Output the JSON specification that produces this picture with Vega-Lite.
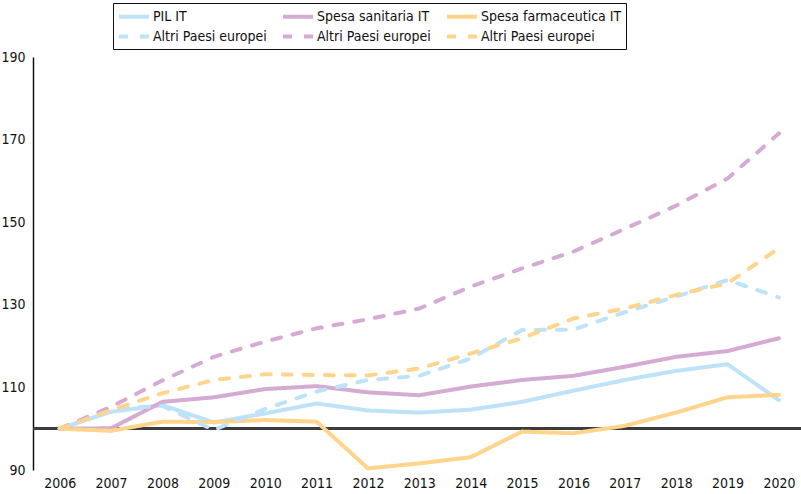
{
  "$schema": "https://vega.github.io/schema/vega-lite/v6.json",
  "width": 768,
  "height": 413,
  "autosize": {"type": "none"},
  "padding": {"left": 33, "top": 57, "right": 0, "bottom": 24},
  "background": "white",
  "config": {
    "view": {"stroke": null},
    "font": "DejaVu Sans Condensed",
    "axis": {"labelFont": "DejaVu Sans Condensed", "labelFontSize": 14, "labelColor": "#111", "grid": false, "ticks": false, "title": null},
    "legend": {"labelFont": "DejaVu Sans Condensed", "labelFontSize": 14, "labelColor": "#111"}
  },
  "data": {
    "values": [
      {"anno": 2006, "serie": "PIL IT", "valore": 100},
      {"anno": 2007, "serie": "PIL IT", "valore": 104.1},
      {"anno": 2008, "serie": "PIL IT", "valore": 105.7},
      {"anno": 2009, "serie": "PIL IT", "valore": 101.5},
      {"anno": 2010, "serie": "PIL IT", "valore": 103.7},
      {"anno": 2011, "serie": "PIL IT", "valore": 106.1},
      {"anno": 2012, "serie": "PIL IT", "valore": 104.4},
      {"anno": 2013, "serie": "PIL IT", "valore": 103.9},
      {"anno": 2014, "serie": "PIL IT", "valore": 104.6},
      {"anno": 2015, "serie": "PIL IT", "valore": 106.5},
      {"anno": 2016, "serie": "PIL IT", "valore": 109.2},
      {"anno": 2017, "serie": "PIL IT", "valore": 111.8},
      {"anno": 2018, "serie": "PIL IT", "valore": 114.0},
      {"anno": 2019, "serie": "PIL IT", "valore": 115.6},
      {"anno": 2020, "serie": "PIL IT", "valore": 106.9},

      {"anno": 2006, "serie": "Spesa sanitaria IT", "valore": 100},
      {"anno": 2007, "serie": "Spesa sanitaria IT", "valore": 100.1},
      {"anno": 2008, "serie": "Spesa sanitaria IT", "valore": 106.5},
      {"anno": 2009, "serie": "Spesa sanitaria IT", "valore": 107.6},
      {"anno": 2010, "serie": "Spesa sanitaria IT", "valore": 109.6},
      {"anno": 2011, "serie": "Spesa sanitaria IT", "valore": 110.3},
      {"anno": 2012, "serie": "Spesa sanitaria IT", "valore": 108.8},
      {"anno": 2013, "serie": "Spesa sanitaria IT", "valore": 108.1},
      {"anno": 2014, "serie": "Spesa sanitaria IT", "valore": 110.2},
      {"anno": 2015, "serie": "Spesa sanitaria IT", "valore": 111.8},
      {"anno": 2016, "serie": "Spesa sanitaria IT", "valore": 112.8},
      {"anno": 2017, "serie": "Spesa sanitaria IT", "valore": 115.0},
      {"anno": 2018, "serie": "Spesa sanitaria IT", "valore": 117.4},
      {"anno": 2019, "serie": "Spesa sanitaria IT", "valore": 118.8},
      {"anno": 2020, "serie": "Spesa sanitaria IT", "valore": 121.9},

      {"anno": 2006, "serie": "Spesa farmaceutica IT", "valore": 100},
      {"anno": 2007, "serie": "Spesa farmaceutica IT", "valore": 99.5},
      {"anno": 2008, "serie": "Spesa farmaceutica IT", "valore": 101.7},
      {"anno": 2009, "serie": "Spesa farmaceutica IT", "valore": 101.6},
      {"anno": 2010, "serie": "Spesa farmaceutica IT", "valore": 102.1},
      {"anno": 2011, "serie": "Spesa farmaceutica IT", "valore": 101.7},
      {"anno": 2012, "serie": "Spesa farmaceutica IT", "valore": 90.4},
      {"anno": 2013, "serie": "Spesa farmaceutica IT", "valore": 91.6},
      {"anno": 2014, "serie": "Spesa farmaceutica IT", "valore": 93.1},
      {"anno": 2015, "serie": "Spesa farmaceutica IT", "valore": 99.3},
      {"anno": 2016, "serie": "Spesa farmaceutica IT", "valore": 98.9},
      {"anno": 2017, "serie": "Spesa farmaceutica IT", "valore": 100.7},
      {"anno": 2018, "serie": "Spesa farmaceutica IT", "valore": 103.9},
      {"anno": 2019, "serie": "Spesa farmaceutica IT", "valore": 107.6},
      {"anno": 2020, "serie": "Spesa farmaceutica IT", "valore": 108.2},

      {"anno": 2006, "serie": "PIL - Altri Paesi europei", "valore": 100},
      {"anno": 2007, "serie": "PIL - Altri Paesi europei", "valore": 104.9},
      {"anno": 2008, "serie": "PIL - Altri Paesi europei", "valore": 105.5},
      {"anno": 2009, "serie": "PIL - Altri Paesi europei", "valore": 99.7},
      {"anno": 2010, "serie": "PIL - Altri Paesi europei", "valore": 104.8},
      {"anno": 2011, "serie": "PIL - Altri Paesi europei", "valore": 109.0},
      {"anno": 2012, "serie": "PIL - Altri Paesi europei", "valore": 111.8},
      {"anno": 2013, "serie": "PIL - Altri Paesi europei", "valore": 112.8},
      {"anno": 2014, "serie": "PIL - Altri Paesi europei", "valore": 117.0},
      {"anno": 2015, "serie": "PIL - Altri Paesi europei", "valore": 123.9},
      {"anno": 2016, "serie": "PIL - Altri Paesi europei", "valore": 124.0},
      {"anno": 2017, "serie": "PIL - Altri Paesi europei", "valore": 128.2},
      {"anno": 2018, "serie": "PIL - Altri Paesi europei", "valore": 132.0},
      {"anno": 2019, "serie": "PIL - Altri Paesi europei", "valore": 136.0},
      {"anno": 2020, "serie": "PIL - Altri Paesi europei", "valore": 131.8},

      {"anno": 2006, "serie": "Spesa sanitaria - Altri Paesi europei", "valore": 100},
      {"anno": 2007, "serie": "Spesa sanitaria - Altri Paesi europei", "valore": 105.3},
      {"anno": 2008, "serie": "Spesa sanitaria - Altri Paesi europei", "valore": 111.7},
      {"anno": 2009, "serie": "Spesa sanitaria - Altri Paesi europei", "valore": 117.4},
      {"anno": 2010, "serie": "Spesa sanitaria - Altri Paesi europei", "valore": 121.1},
      {"anno": 2011, "serie": "Spesa sanitaria - Altri Paesi europei", "valore": 124.3},
      {"anno": 2012, "serie": "Spesa sanitaria - Altri Paesi europei", "valore": 126.5},
      {"anno": 2013, "serie": "Spesa sanitaria - Altri Paesi europei", "valore": 129.1},
      {"anno": 2014, "serie": "Spesa sanitaria - Altri Paesi europei", "valore": 134.4},
      {"anno": 2015, "serie": "Spesa sanitaria - Altri Paesi europei", "valore": 138.8},
      {"anno": 2016, "serie": "Spesa sanitaria - Altri Paesi europei", "valore": 142.9},
      {"anno": 2017, "serie": "Spesa sanitaria - Altri Paesi europei", "valore": 148.4},
      {"anno": 2018, "serie": "Spesa sanitaria - Altri Paesi europei", "valore": 154.0},
      {"anno": 2019, "serie": "Spesa sanitaria - Altri Paesi europei", "valore": 160.6},
      {"anno": 2020, "serie": "Spesa sanitaria - Altri Paesi europei", "valore": 171.5},

      {"anno": 2006, "serie": "Spesa farmaceutica - Altri Paesi europei", "valore": 100},
      {"anno": 2007, "serie": "Spesa farmaceutica - Altri Paesi europei", "valore": 104.5},
      {"anno": 2008, "serie": "Spesa farmaceutica - Altri Paesi europei", "valore": 108.6},
      {"anno": 2009, "serie": "Spesa farmaceutica - Altri Paesi europei", "valore": 111.8},
      {"anno": 2010, "serie": "Spesa farmaceutica - Altri Paesi europei", "valore": 113.2},
      {"anno": 2011, "serie": "Spesa farmaceutica - Altri Paesi europei", "valore": 113.0},
      {"anno": 2012, "serie": "Spesa farmaceutica - Altri Paesi europei", "valore": 112.9},
      {"anno": 2013, "serie": "Spesa farmaceutica - Altri Paesi europei", "valore": 114.6},
      {"anno": 2014, "serie": "Spesa farmaceutica - Altri Paesi europei", "valore": 118.2},
      {"anno": 2015, "serie": "Spesa farmaceutica - Altri Paesi europei", "valore": 121.9},
      {"anno": 2016, "serie": "Spesa farmaceutica - Altri Paesi europei", "valore": 126.7},
      {"anno": 2017, "serie": "Spesa farmaceutica - Altri Paesi europei", "valore": 129.1},
      {"anno": 2018, "serie": "Spesa farmaceutica - Altri Paesi europei", "valore": 132.4},
      {"anno": 2019, "serie": "Spesa farmaceutica - Altri Paesi europei", "valore": 135.2},
      {"anno": 2020, "serie": "Spesa farmaceutica - Altri Paesi europei", "valore": 143.7}
    ]
  },
  "encoding": {
    "x": {
      "field": "anno",
      "type": "quantitative",
      "scale": {"domain": [2005.48, 2020.43], "nice": false, "zero": false},
      "axis": {"values": [2006, 2007, 2008, 2009, 2010, 2011, 2012, 2013, 2014, 2015, 2016, 2017, 2018, 2019, 2020], "format": "d", "domain": false, "labelPadding": 6, "labelFlush": false}
    },
    "y": {
      "field": "valore",
      "type": "quantitative",
      "scale": {"domain": [90, 190], "nice": false, "zero": false},
      "axis": {"values": [90, 110, 130, 150, 170, 190], "domain": true, "domainColor": "#111", "domainWidth": 1.5, "labelPadding": 8, "labelFlush": false}
    }
  },
  "layer": [
    {
      "mark": {"type": "rule", "color": "#3c3c3c", "strokeWidth": 2},
      "encoding": {"y": {"datum": 100}, "x": null}
    },
    {
      "mark": {"type": "line", "strokeWidth": 4, "strokeCap": "round", "strokeJoin": "round"},
      "encoding": {
        "color": {
          "field": "serie",
          "type": "nominal",
          "scale": {
            "domain": ["PIL IT", "Spesa sanitaria IT", "Spesa farmaceutica IT", "PIL - Altri Paesi europei", "Spesa sanitaria - Altri Paesi europei", "Spesa farmaceutica - Altri Paesi europei"],
            "range": ["#bee3f8", "#d6abd3", "#ffd48c", "#bee3f8", "#d6abd3", "#ffd48c"]
          },
          "legend": {
            "title": null,
            "orient": "none",
            "legendX": 80,
            "legendY": -54,
            "direction": "horizontal",
            "columns": 3,
            "columnPadding": 8,
            "rowPadding": 2,
            "symbolType": "M-1,0H3",
            "symbolSize": 225,
            "symbolStrokeWidth": 4,
            "labelOffset": 17,
            "strokeColor": "#111",
            "padding": 4,
            "labelExpr": "indexof(datum.label, 'Altri') >= 0 ? 'Altri Paesi europei' : datum.label"
          }
        },
        "strokeDash": {
          "field": "serie",
          "type": "nominal",
          "scale": {
            "domain": ["PIL IT", "Spesa sanitaria IT", "Spesa farmaceutica IT", "PIL - Altri Paesi europei", "Spesa sanitaria - Altri Paesi europei", "Spesa farmaceutica - Altri Paesi europei"],
            "range": [[1, 0], [1, 0], [1, 0], [9, 12], [9, 12], [9, 12]]
          },
          "legend": null
        },
        "order": {"field": "anno"}
      }
    }
  ]
}
